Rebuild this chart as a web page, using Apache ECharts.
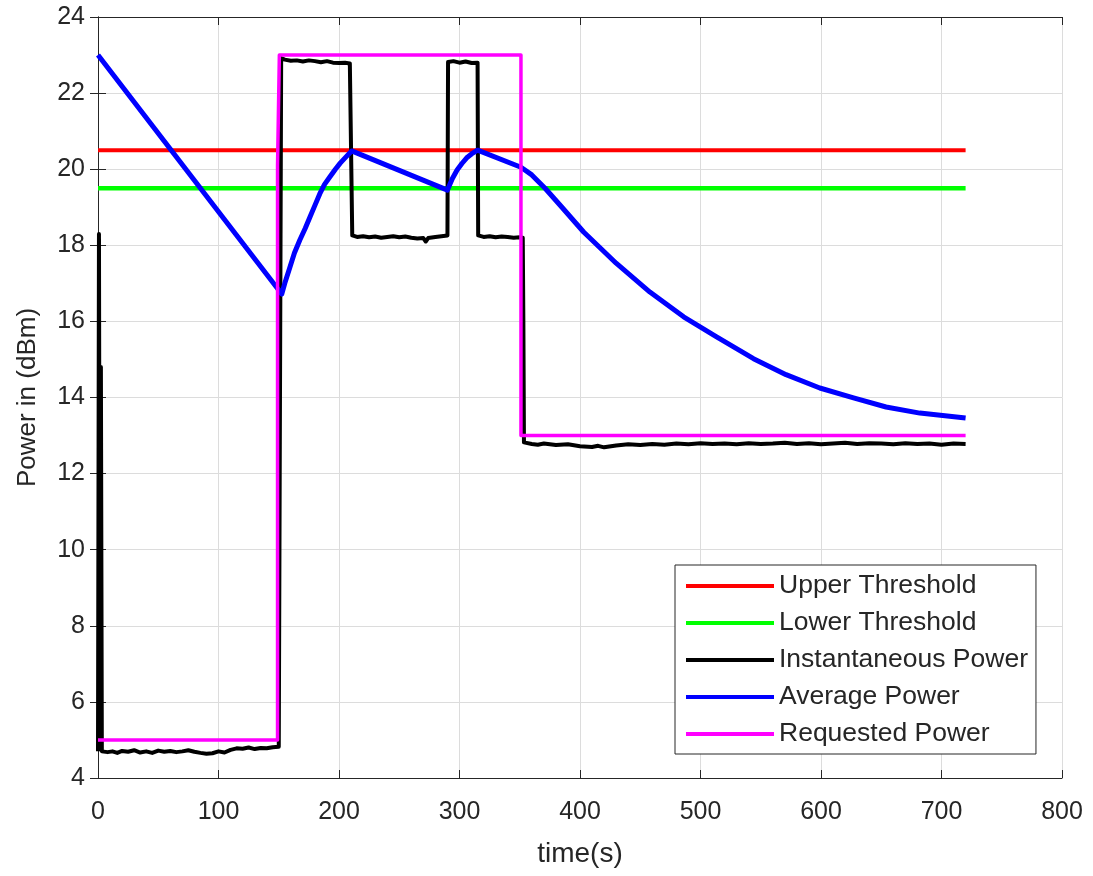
<!DOCTYPE html>
<html>
<head>
<meta charset="utf-8">
<script src="https://cdn.jsdelivr.net/npm/echarts@6/dist/echarts.min.js"></script>
<style>
html,body{margin:0;padding:0;background:#fff;}
#chart{width:1093px;height:876px;}
</style>
</head>
<body>
<div id="chart"></div>
<script>
// ---- data ----
var seriesNames = ['Upper Threshold','Lower Threshold','Instantaneous Power','Average Power','Requested Power'];
var seriesColors = ['#ff0000','#00ff00','#000000','#0000ff','#ff00ff'];

var upperT = [0, 720];
var upperV = [20.5, 20.5];

var lowerT = [0, 720];
var lowerV = [19.5, 19.5];

var instT = [0, 0.8, 1.6, 2.4, 3.2, 4, 8, 12, 16, 20, 25, 30, 35, 40, 45, 50, 55, 60, 65, 70, 75, 80, 85, 90, 95, 100, 105, 110, 115, 120, 125, 130, 135, 140, 145, 150, 151.5,
  152, 155, 160, 165, 170, 175, 180, 185, 190, 195, 200, 205, 209, 210.5,
  211, 215, 220, 225, 230, 235, 240, 245, 250, 255, 260, 265, 270, 272, 274, 280, 285, 290,
  290.5, 295, 300, 305, 310, 315,
  315.5, 320, 325, 330, 335, 340, 345, 350, 352.5, 353,
  353.5, 360, 365, 370, 380, 390, 400, 410, 415, 420, 430, 440, 450, 460, 470, 480, 490, 500, 510, 520, 530, 540, 550, 560, 570, 580, 590, 600, 610, 620, 630, 640, 650, 660, 670, 680, 690, 700, 710, 720];
var instV = [4.7, 18.3, 4.75, 14.8, 4.7, 4.72, 4.68, 4.70, 4.66, 4.71, 4.69, 4.73, 4.67, 4.70, 4.66, 4.72, 4.69, 4.71, 4.68, 4.70, 4.73, 4.69, 4.66, 4.64, 4.65, 4.70, 4.67, 4.74, 4.78, 4.77, 4.80, 4.76, 4.79, 4.78, 4.81, 4.82, 4.84,
  22.92, 22.88, 22.85, 22.86, 22.83, 22.86, 22.84, 22.81, 22.84, 22.80, 22.79, 22.80, 22.78, 22.78,
  18.26, 18.22, 18.24, 18.21, 18.23, 18.20, 18.22, 18.24, 18.21, 18.23, 18.20, 18.18, 18.19, 18.10, 18.19, 18.22, 18.24, 18.26,
  22.82, 22.84, 22.80, 22.83, 22.79, 22.80,
  18.26, 18.22, 18.24, 18.21, 18.23, 18.22, 18.20, 18.21, 18.2, 16.0,
  12.82, 12.78, 12.76, 12.79, 12.75, 12.77, 12.72, 12.70, 12.73, 12.69, 12.74, 12.77, 12.75, 12.78, 12.76, 12.79, 12.77, 12.80, 12.78, 12.79, 12.77, 12.80, 12.78, 12.79, 12.81, 12.78, 12.80, 12.77, 12.79, 12.81, 12.78, 12.80, 12.79, 12.77, 12.80, 12.78, 12.79, 12.76, 12.79, 12.78];

var avgT = [0, 152.5, 155, 159, 163, 167.5, 172, 176, 180, 184, 188, 192.5, 197, 201, 206, 210.5, 290, 294, 298, 302, 306, 310, 315, 351, 360, 371, 385, 403, 430, 458, 486, 513, 544, 571, 599, 627, 654, 682, 720];
var avgV = [23.0, 16.72, 17.0, 17.4, 17.8, 18.14, 18.45, 18.75, 19.05, 19.35, 19.6, 19.8, 20.0, 20.16, 20.33, 20.48, 19.45, 19.75, 19.98, 20.15, 20.3, 20.4, 20.5, 20.05, 19.85, 19.5, 19.0, 18.35, 17.53, 16.77, 16.12, 15.6, 15.02, 14.6, 14.25, 13.99, 13.75, 13.59, 13.46];

var reqT = [0, 149, 149, 150.5, 150.5, 351, 351, 720];
var reqV = [5, 5, 20.1, 20.1, 23, 23, 13, 13];

var xTicks = {min: 0, max: 800, interval: 100};
var yTicks = {min: 4, max: 24, interval: 2};

// ---- build ----
function zip(t, v){ var out=[]; for (var i=0;i<t.length;i++) out.push([t[i], v[i]]); return out; }
var allData = [zip(upperT,upperV), zip(lowerT,lowerV), zip(instT,instV), zip(avgT,avgV), zip(reqT,reqV)];
var widths = [4, 4.5, 4, 5, 3.5];

var txt = '#262626';
var font = '"Liberation Sans", Arial, Helvetica, sans-serif';

var chart = echarts.init(document.getElementById('chart'), null, {renderer: 'canvas'});
var series = seriesNames.map(function(n, i){
  return {
    name: n, type: 'line', data: allData[i], showSymbol: false, symbol: 'none',
    xAxisIndex: 0, yAxisIndex: 0, animation: false,
    lineStyle: {color: seriesColors[i], width: widths[i], join: 'round'},
    itemStyle: {color: seriesColors[i]},
    z: 2 + i
  };
});

var baseAxisLine = {show: true, lineStyle: {color: txt, width: 1}};
chart.setOption({
  animation: false,
  backgroundColor: '#ffffff',
  textStyle: {fontFamily: font},
  grid: {left: 98, right: 31, top: 17, bottom: 98, containLabel: false},
  legend: {
    orient: 'vertical', left: 675, top: 565,
    data: seriesNames,
    icon: 'rect', itemWidth: 88, itemHeight: 4, itemGap: 9,
    padding: [7, 8, 6, 11],
    borderColor: txt, borderWidth: 1, backgroundColor: '#ffffff',
    textStyle: {fontSize: 26.5, color: txt, fontFamily: font, lineHeight: 28},
    selectedMode: false, z: 20
  },
  xAxis: [
    {type: 'value', position: 'bottom', min: xTicks.min, max: xTicks.max, interval: xTicks.interval,
     name: 'time(s)', nameLocation: 'middle', nameGap: 62,
     nameTextStyle: {fontSize: 28, color: txt, fontFamily: font},
     axisLine: baseAxisLine,
     axisTick: {show: true, inside: true, length: 8, lineStyle: {color: txt}},
     axisLabel: {fontSize: 25, color: txt, margin: 22, fontFamily: font},
     splitLine: {show: true, lineStyle: {color: '#dcdcdc', width: 1}}},
    {type: 'value', position: 'top', min: xTicks.min, max: xTicks.max, interval: xTicks.interval,
     axisLine: baseAxisLine,
     axisTick: {show: true, inside: true, length: 8, lineStyle: {color: txt}},
     axisLabel: {show: false}, splitLine: {show: false}}
  ],
  yAxis: [
    {type: 'value', position: 'left', min: yTicks.min, max: yTicks.max, interval: yTicks.interval,
     name: 'Power in (dBm)', nameLocation: 'middle', nameGap: 57,
     nameTextStyle: {fontSize: 26, color: txt, fontFamily: font},
     axisLine: baseAxisLine,
     axisTick: {show: true, inside: true, length: 8, lineStyle: {color: txt}},
     axisLabel: {fontSize: 25, color: txt, margin: 13, fontFamily: font},
     splitLine: {show: true, lineStyle: {color: '#dcdcdc', width: 1}}},
    {type: 'value', position: 'right', min: yTicks.min, max: yTicks.max, interval: yTicks.interval,
     axisLine: baseAxisLine,
     axisTick: {show: true, inside: true, length: 8, lineStyle: {color: txt}},
     axisLabel: {show: false}, splitLine: {show: false}}
  ],
  series: series
});
</script>
</body>
</html>
